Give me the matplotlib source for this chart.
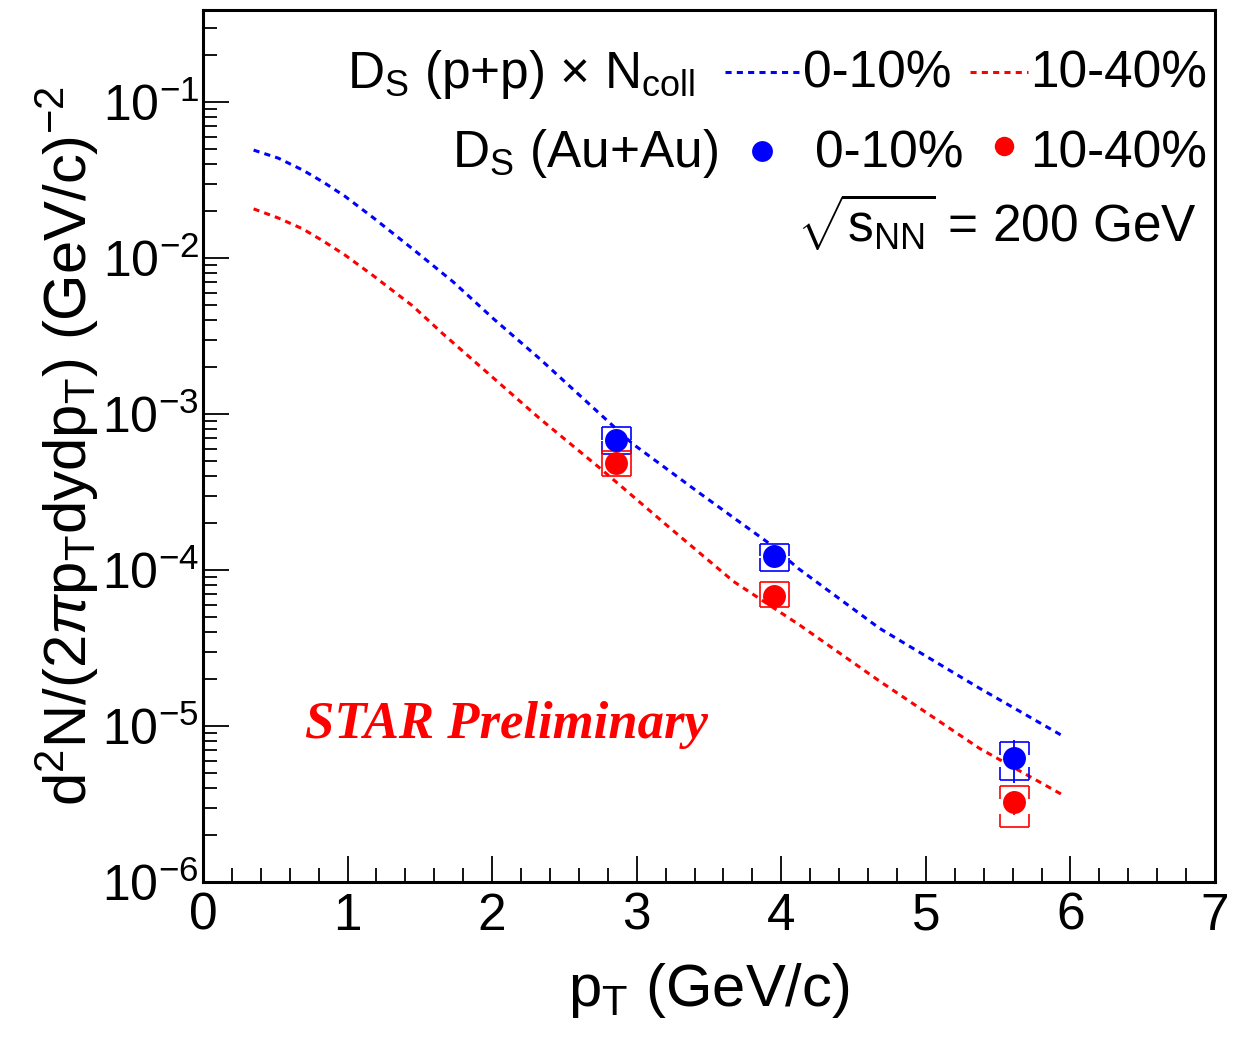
import numpy as np
import matplotlib
matplotlib.use('Agg')
import matplotlib.pyplot as plt
from matplotlib.lines import Line2D
from matplotlib.ticker import FixedLocator, MultipleLocator, FuncFormatter, NullFormatter, LogLocator

# ---------------- data ----------------
pt = [2.86, 3.95, 5.61]
aa_0_10 = [6.85e-4, 1.24e-4, 6.2e-6]
aa_0_10_stat = [0.4e-4, 0.08e-4, 1.9e-6]
aa_0_10_sys_lo = [5.57e-4, 9.93e-5, 4.50e-6]
aa_0_10_sys_hi = [8.30e-4, 1.48e-4, 7.87e-6]

aa_10_40 = [4.89e-4, 6.87e-5, 3.25e-6]
aa_10_40_stat = [0.3e-4, 0.5e-5, 0.56e-6]
aa_10_40_sys_lo = [4.04e-4, 5.76e-5, 2.25e-6]
aa_10_40_sys_hi = [5.83e-4, 8.33e-5, 4.12e-6]

pp_x_0_10 = [0.35, 0.52, 0.69, 0.83, 0.98, 1.18, 1.45, 1.73, 2.01, 2.33, 2.97, 3.44,
             3.90, 4.12, 4.68, 5.37, 5.95]
pp_y_0_10 = [4.93e-2, 4.38e-2, 3.67e-2, 3.08e-2, 2.50e-2, 1.81e-2, 1.146e-2, 7.05e-3,
             4.08e-3, 2.26e-3, 6.47e-4, 3.09e-4, 1.52e-4, 1.02e-4, 4.23e-5, 1.75e-5, 8.6e-6]
pp_x_10_40 = [0.35, 0.52, 0.69, 0.83, 0.98, 1.18, 1.45, 1.66, 2.33, 2.75, 3.21, 3.67,
              4.13, 4.68, 5.37, 5.95]
pp_y_10_40 = [2.07e-2, 1.81e-2, 1.54e-2, 1.29e-2, 1.05e-2, 7.69e-3, 4.94e-3, 3.27e-3,
              9.35e-4, 4.47e-4, 1.93e-4, 8.45e-5, 4.42e-5, 1.94e-5, 7.2e-6, 3.6e-6]

x_ticks = [0, 1, 2, 3, 4, 5, 6, 7]
y_ticks = [1e-6, 1e-5, 1e-4, 1e-3, 1e-2, 1e-1]

# style constants
BLUE = '#0000ff'
RED = '#ff0000'
SYS_HALFWIDTH = 0.1          # x half-width of systematic brackets
BRACKET_TICK_DEC = 0.083     # length of bracket side ticks, in decades

plt.rcParams['font.family'] = ['Liberation Sans', 'DejaVu Sans']
plt.rcParams['mathtext.fontset'] = 'custom'
plt.rcParams['mathtext.rm'] = 'Liberation Sans'
plt.rcParams['mathtext.it'] = 'Liberation Sans:italic'
plt.rcParams['mathtext.bf'] = 'Liberation Sans:bold'
plt.rcParams['mathtext.sf'] = 'Liberation Sans'

fig = plt.figure(figsize=(12.43, 10.39), dpi=100)
ax = fig.add_axes([203/1243, (1039-882)/1039, (1215-203)/1243, (882-10)/1039])

ax.set_yscale('log')
ax.set_xlim(0, 7)
ax.set_ylim(1e-6, 0.39)

dash = (2.0, 1.7)
ax.plot(pp_x_0_10, pp_y_0_10, color=BLUE, lw=2.2, dashes=dash)
ax.plot(pp_x_10_40, pp_y_10_40, color=RED, lw=2.2, dashes=dash)


def draw_points(y, stat, lo, hi, color):
    f = 10 ** BRACKET_TICK_DEC
    for xi, l, h in zip(pt, lo, hi):
        x0, x1 = xi - SYS_HALFWIDTH, xi + SYS_HALFWIDTH
        mid = np.sqrt(l * h)
        top_end = max(h / f, mid)
        bot_end = min(l * f, mid)
        kw = dict(color=color, lw=1.2, zorder=3, solid_capstyle='butt')
        ax.plot([x0, x1], [h, h], **kw)
        ax.plot([x0, x1], [l, l], **kw)
        for xe in (x0, x1):
            ax.plot([xe, xe], [h, top_end], **kw)
            ax.plot([xe, xe], [l, bot_end], **kw)
    ax.errorbar(pt, y, yerr=stat, fmt='none', ecolor=color, elinewidth=1.3, capsize=0, zorder=4)
    ax.plot(pt, y, 'o', color=color, markersize=16.5, markeredgewidth=0, zorder=5)


draw_points(aa_0_10, aa_0_10_stat, aa_0_10_sys_lo, aa_0_10_sys_hi, BLUE)
draw_points(aa_10_40, aa_10_40_stat, aa_10_40_sys_lo, aa_10_40_sys_hi, RED)

# ticks
ax.xaxis.set_major_locator(FixedLocator(x_ticks))
ax.xaxis.set_minor_locator(MultipleLocator(0.2))
ax.yaxis.set_major_locator(FixedLocator(y_ticks))
ax.yaxis.set_minor_locator(LogLocator(base=10, subs=np.arange(2, 10)))
ax.yaxis.set_minor_formatter(NullFormatter())
ax.yaxis.set_major_formatter(FuncFormatter(lambda v, p: r'$\mathregular{10^{%d}}$' % int(round(np.log10(v)))))
ax.xaxis.set_major_formatter(FuncFormatter(lambda v, p: '%d' % v))

ax.tick_params(which='both', direction='in', top=False, right=False, width=1.3, colors='black')
ax.tick_params(which='major', length=19)
ax.tick_params(which='minor', length=10)
ax.tick_params(axis='x', which='major', labelsize=37, pad=7)
ax.tick_params(axis='y', which='major', labelsize=36, pad=3)
for s in ax.spines.values():
    s.set_linewidth(2.2)

ax.set_xlabel(r'p$_{\rm T}$ (GeV/c)', fontsize=43, va='center')
ax.xaxis.set_label_coords(0.5, -(990 - 882) / 872)
ax.set_ylabel(r'd$^{2}$N/(2$\pi$p$_{\rm T}$dydp$_{\rm T}$) (GeV/c)$^{-2}$', fontsize=43, va='center')
ax.yaxis.set_label_coords(-(203 - 67) / 1012, 0.5)


# legend (manual, ROOT style), positions in axes fraction
def fx(px):
    return (px - 203) / 1012


def fy(py):
    return (882 - py) / 872


tkw = dict(transform=ax.transAxes, fontsize=37, va='baseline')
ax.text(fx(695), fy(88), r'D$_{\rm S}$ (p+p) × N$_{\rm coll}$', ha='right', **tkw)
ax.add_line(Line2D([fx(725), fx(800)], [fy(72), fy(72)], transform=ax.transAxes,
                   color=BLUE, lw=2.2, dashes=dash))
ax.text(fx(803), fy(88), '0-10%', ha='left', **tkw)
ax.add_line(Line2D([fx(970), fx(1028)], [fy(72), fy(72)], transform=ax.transAxes,
                   color=RED, lw=2.2, dashes=dash))
ax.text(fx(1030), fy(88), '10-40%', ha='left', **tkw)

ax.text(fx(718), fy(167), r'D$_{\rm S}$ (Au+Au)', ha='right', **tkw)
ax.add_line(Line2D([fx(762)], [fy(151)], transform=ax.transAxes, marker='o',
                   color=BLUE, markersize=15, markeredgewidth=0, linestyle='none'))
ax.text(fx(815), fy(167), '0-10%', ha='left', **tkw)
ax.add_line(Line2D([fx(1004)], [fy(146)], transform=ax.transAxes, marker='o',
                   color=RED, markersize=14, markeredgewidth=0, linestyle='none'))
ax.text(fx(1030), fy(167), '10-40%', ha='left', **tkw)

ax.text(fx(1197), fy(243), r'$\sqrt{\mathrm{s}_{\rm NN}}$ = 200 GeV', ha='right', **tkw)

ax.text(fx(305), fy(738), 'STAR Preliminary', transform=ax.transAxes, color=RED,
        fontsize=38, fontfamily=['Liberation Serif', 'DejaVu Serif'], fontstyle='italic',
        fontweight='bold', ha='left', va='baseline')

fig.savefig('out.png', dpi=100)
